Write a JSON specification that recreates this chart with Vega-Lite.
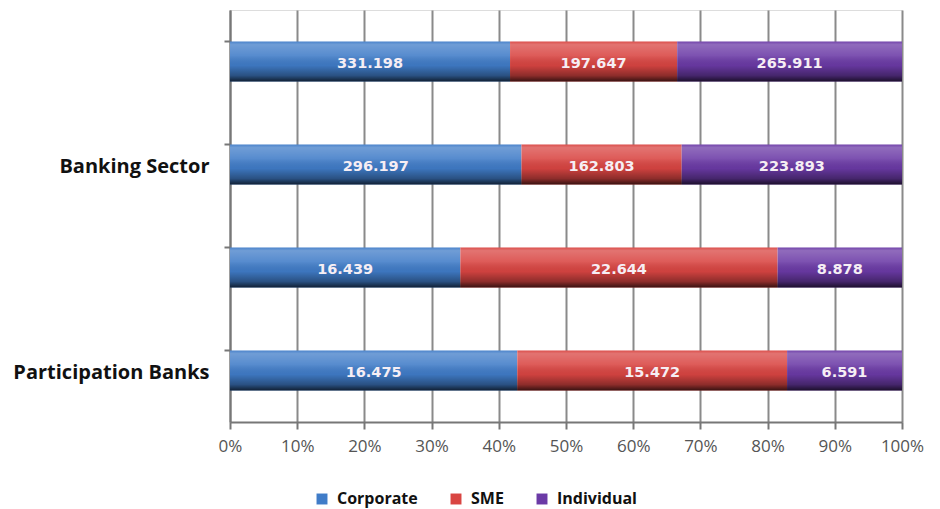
{
  "$schema": "https://vega.github.io/schema/vega-lite/v6.json",
  "autosize": {"type": "none"},
  "width": 672,
  "height": 412,
  "padding": {"left": 230, "top": 10, "right": 38, "bottom": 87},
  "background": "white",
  "data": {"values": [
    {"group": "Banking Sector (1)", "type": "Corporate", "value": 331.198},
    {"group": "Banking Sector (1)", "type": "SME", "value": 197.647},
    {"group": "Banking Sector (1)", "type": "Individual", "value": 265.911},
    {"group": "Banking Sector", "type": "Corporate", "value": 296.197},
    {"group": "Banking Sector", "type": "SME", "value": 162.803},
    {"group": "Banking Sector", "type": "Individual", "value": 223.893},
    {"group": "Participation Banks (1)", "type": "Corporate", "value": 16.439},
    {"group": "Participation Banks (1)", "type": "SME", "value": 22.644},
    {"group": "Participation Banks (1)", "type": "Individual", "value": 8.878},
    {"group": "Participation Banks", "type": "Corporate", "value": 16.475},
    {"group": "Participation Banks", "type": "SME", "value": 15.472},
    {"group": "Participation Banks", "type": "Individual", "value": 6.591}
  ]},
  "transform": [
    {"calculate": "indexof(['Corporate','SME','Individual'], datum.type)", "as": "typeOrder"}
  ],
  "encoding": {
    "y": {
      "field": "group", "type": "nominal",
      "sort": ["Banking Sector (1)", "Banking Sector", "Participation Banks (1)", "Participation Banks"],
      "scale": {"paddingInner": 0.61, "paddingOuter": 0.305},
      "axis": {
        "title": null,
        "bandPosition": 0,
        "labelExpr": "indexof(datum.label, '(1)') >= 0 ? '' : datum.label",
        "labelFont": "Open Sans", "labelFontWeight": "bold", "labelFontSize": 20, "labelColor": "#111",
        "labelLimit": 300, "labelOffset": 2,
        "labelPadding": 15, "tickSize": 6, "tickColor": "#777", "tickWidth": 2,
        "domainColor": "#777", "domainWidth": 2, "grid": false
      }
    }
  },
  "layer": [
    {
      "mark": {"type": "bar"},
      "encoding": {
        "x": {
          "aggregate": "sum", "field": "value", "type": "quantitative", "stack": "normalize",
          "scale": {"domain": [0, 1]},
          "axis": {
            "title": null, "format": "%", "values": [0, 0.1, 0.2, 0.3, 0.4, 0.5, 0.6, 0.7, 0.8, 0.9, 1],
            "labelFlush": false, "labelOverlap": false,
            "grid": true, "gridColor": "#8a8a8a", "gridWidth": 2,
            "domainColor": "#777", "domainWidth": 2, "tickColor": "#777", "tickWidth": 2, "tickSize": 7,
            "labelFont": "Open Sans", "labelFontSize": 17, "labelColor": "#555", "labelPadding": 9
          }
        },
        "color": {
          "field": "type", "type": "nominal",
          "sort": ["Corporate", "SME", "Individual"],
          "scale": {"domain": ["Corporate", "SME", "Individual"], "range": ["#407cc8", "#d94542", "#6b3aa6"]},
          "legend": {
            "title": null, "orient": "none", "legendX": 84, "legendY": 481, "direction": "horizontal",
            "symbolType": "square", "symbolSize": 120, "symbolStrokeWidth": 0,
            "labelFont": "Open Sans", "labelFontWeight": "bold", "labelFontSize": 16, "labelColor": "#111",
            "columnPadding": 30, "labelOffset": 7
          }
        },
        "order": {"field": "typeOrder", "type": "quantitative", "sort": "ascending"}
      }
    },
    {
      "mark": {
        "type": "bar",
        "clip": true,
        "fill": {
          "gradient": "linear", "x1": 0, "y1": 0, "x2": 0, "y2": 1,
          "stops": [
            {"offset": 0, "color": "rgba(255,255,255,0.05)"},
            {"offset": 0.08, "color": "rgba(255,255,255,0.25)"},
            {"offset": 0.35, "color": "rgba(255,255,255,0.12)"},
            {"offset": 0.6, "color": "rgba(0,0,0,0.05)"},
            {"offset": 0.85, "color": "rgba(0,0,0,0.35)"},
            {"offset": 1, "color": "rgba(0,0,0,0.75)"}
          ]
        }
      },
      "encoding": {
        "x": {"aggregate": "sum", "field": "value", "type": "quantitative"}
      }
    },
    {
      "mark": {"type": "text", "font": "DejaVu Sans", "fontWeight": "bold", "fontSize": 14.5, "color": "#f6eef4", "baseline": "middle", "dy": 2},
      "encoding": {
        "x": {"aggregate": "sum", "field": "value", "type": "quantitative", "stack": "normalize", "bandPosition": 0.5},
        "detail": {"field": "type", "type": "nominal"},
        "order": {"field": "typeOrder", "type": "quantitative", "sort": "ascending"},
        "text": {"aggregate": "sum", "field": "value", "type": "quantitative", "format": ".3f"}
      }
    }
  ]
}
